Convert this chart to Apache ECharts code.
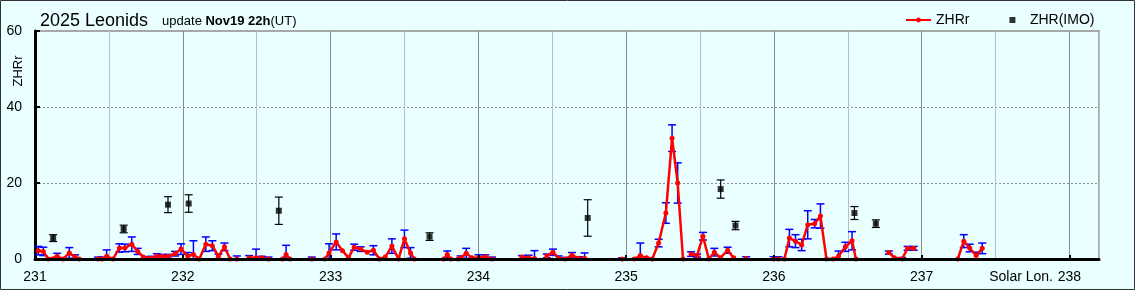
<!DOCTYPE html>
<html><head><meta charset="utf-8">
<script src="https://cdn.jsdelivr.net/npm/echarts@6/dist/echarts.min.js"></script>
<style>html,body{margin:0;padding:0;background:#eaffff}#c{width:1135px;height:290px}</style>
</head><body><div id="c"></div>
<script>
// ZHRr (red line) — solar longitude, value, error (null = gap / no bar)
const zhrLon = [231.022,231.056,231.090,231.150,231.190,231.232,231.271,231.300,231.36,231.427,231.455,231.485,231.528,231.571,231.609,231.655,231.695,231.733,231.783,231.824,231.862,231.902,231.948,231.988,232.034,232.072,232.112,232.156,232.200,232.241,232.282,232.320,232.34,232.366,232.40,232.449,232.496,232.535,232.580,232.62,232.675,232.699,232.725,232.80,232.873,232.92,232.963,232.990,233.038,233.081,233.121,233.160,233.204,233.248,233.290,233.331,233.370,233.415,233.460,233.500,233.541,233.566,233.65,233.766,233.790,233.814,233.84,233.864,233.880,233.918,233.957,234.001,234.047,234.092,234.20,234.295,234.340,234.380,234.42,234.464,234.505,234.543,234.588,234.634,234.678,234.719,234.85,234.972,235.01,235.055,235.096,235.139,235.177,235.220,235.269,235.311,235.349,235.385,235.41,235.440,235.480,235.520,235.560,235.597,235.638,235.687,235.728,235.77,235.812,235.90,235.999,236.030,236.071,236.105,236.146,236.188,236.229,236.276,236.315,236.356,236.400,236.437,236.484,236.529,236.555,236.65,236.778,236.816,236.867,236.905,236.946,237.10,237.244,237.285,237.325,237.369,237.410];
const zhrVal = [2.2,2.0,0,0.7,0,1.6,0.5,0,null,0,0,0.7,0,2.9,2.9,3.9,2.0,0.5,0.2,0.8,0.7,0.7,1.4,2.6,0.8,1.2,0,3.9,3.5,0.7,3.2,0,null,0,null,0.3,0.3,0.3,0,null,0,1.2,0,null,0,null,0,1.6,4.5,2.2,0.3,3.1,2.6,1.8,2.3,0,0.5,3.4,0,5.3,1.6,0,null,0,1.2,0,null,0,0.3,1.5,0.3,0.4,0.6,0,null,0.5,0.3,0.1,null,0.8,1.8,0.2,0,1.0,0.2,0.2,null,0,null,0,0.9,0.3,0,4.2,12.1,31.8,20.0,0,null,1.3,0.9,6.0,0,1.8,0.3,2.3,0.3,null,0.1,null,0,0,0,5.5,4.7,3.7,9.0,9.3,11.3,0,0,0.7,3.2,4.8,0,null,1.7,0.3,0,2.8,2.8,null,0,4.7,2.9,0.9,2.8];
const zhrErr = [1.1,1.1,null,0.8,null,1.4,0.6,null,null,0.5,0.5,1.7,null,1.1,1.0,1.9,0.8,null,0.5,0.6,0.5,0.5,0.6,1.4,0.9,3.6,null,1.9,1.3,0.6,1.0,null,null,0.8,null,0.6,2.3,0.4,0.5,null,null,2.4,null,null,0.5,null,null,2.4,2.1,null,null,0.8,0.6,null,1.2,null,null,1.9,null,2.3,1.4,null,null,null,0.9,null,null,null,0.5,1.3,null,0.7,0.5,0.5,null,0.4,0.7,2.1,null,0.5,0.8,0.6,0.4,0.7,0.4,1.4,null,0.3,null,null,3.3,null,null,1.0,2.7,3.5,5.3,null,null,0.6,0.4,1.0,null,1.0,null,0.8,null,null,0.5,null,0.6,0.6,null,2.3,1.7,1.5,3.7,1.1,3.2,null,null,1.4,1.2,2.4,null,null,0.4,null,0.4,0.5,0.5,null,null,1.7,1.0,0.9,1.4];

// ZHR(IMO) (black squares)
const imoLon = [231.123,231.600,231.900,232.040,232.650,233.670,234.740,235.640,235.740,236.545,236.690];
const imoVal = [5.5,7.9,14.3,14.6,12.7,5.9,10.8,18.4,8.8,12.1,9.3];
const imoErr = [0.9,1.0,2.1,2.3,3.6,1.0,4.8,2.4,1.1,1.7,1.0];

const xLabels = [231,232,233,234,235,236,237,238];
const yLabels = [0,20,40,60];

const FONT = "'Liberation Sans', 'Noto Sans CJK JP', sans-serif";

const zhrData = zhrLon.map((x,i)=>[x, zhrVal[i]]);
const zhrBars = [];
zhrLon.forEach((x,i)=>{ if (zhrErr[i]!=null && zhrVal[i]!=null) zhrBars.push([x, Math.max(0, zhrVal[i]-zhrErr[i]), zhrVal[i]+zhrErr[i]]); });
const imoData = imoLon.map((x,i)=>[x, imoVal[i]]);
const imoBars = imoLon.map((x,i)=>[x, Math.max(0, imoVal[i]-imoErr[i]), imoVal[i]+imoErr[i]]);

function errBar(color, lw, cap) {
  return function(params, api) {
    const x = api.value(0), lo = api.value(1), hi = api.value(2);
    const p1 = api.coord([x, lo]), p2 = api.coord([x, hi]);
    const st = {stroke: color, lineWidth: lw};
    return {type:'group', children:[
      {type:'line', shape:{x1:p1[0],y1:p1[1],x2:p2[0],y2:p2[1]}, style:st},
      {type:'line', shape:{x1:p1[0]-cap,y1:p1[1],x2:p1[0]+cap,y2:p1[1]}, style:st},
      {type:'line', shape:{x1:p2[0]-cap,y1:p2[1],x2:p2[0]+cap,y2:p2[1]}, style:st}
    ]};
  };
}

const chart = echarts.init(document.getElementById('c'), null, {renderer:'canvas'});
chart.setOption({
  backgroundColor: '#eaffff',
  animation: false,
  textStyle: {fontFamily: FONT},
  title: {
    left: 35, top: 7,
    text: '{a|2025 Leonids}{s| }{b|update }{c|Nov19 22h}{b|(UT)}',
    textStyle: {fontWeight: 'normal', rich: {
      a: {fontSize: 18, color: '#000', fontWeight: 'normal', fontFamily: FONT},
      s: {fontSize: 13, width: 14},
      b: {fontSize: 13, color: '#000', fontWeight: 'normal', fontFamily: FONT},
      c: {fontSize: 13, color: '#000', fontWeight: 'bold', fontFamily: FONT}
    }}
  },
  legend: {
    left: 900, top: 8, itemWidth: 25, itemHeight: 6, itemGap: 40,
    textStyle: {fontSize: 14, color: '#000', fontFamily: FONT},
    data: [
      {name: 'ZHRr'},
      {name: 'ZHR(IMO)', icon: 'path://M0,0h1v1h-1z'}
    ]
  },
  grid: {left: 35, right: 36, top: 31, bottom: 31, show: true, borderColor: '#a8a8a8', borderWidth: 2, backgroundColor: 'transparent'},
  xAxis: [{
    type: 'value', min: 231, max: 238.2, interval: 0.5, position: 'bottom',
    axisLine: {show: false}, axisTick: {show: false}, axisLabel: {show: false},
    splitLine: {show: true, lineStyle: {color: ['#8a8a8a', '#bcbcbc'], width: 1}}
  }, {
    type: 'value', min: 231, max: 238.2, interval: 1, position: 'bottom', z: 10,
    axisLine: {show: true, onZero: false, lineStyle: {color: '#000', width: 3}},
    axisTick: {show: true, inside: true, length: 4, customValues: xLabels, lineStyle: {color: '#000', width: 2}},
    axisLabel: {show: true, customValues: xLabels, margin: 11, fontSize: 14, color: '#000', fontFamily: FONT,
      formatter: v => String(Math.round(v))},
    splitLine: {show: false}
  }],
  yAxis: {
    type: 'value', min: 0, max: 60, interval: 20,
    axisLine: {show: true, onZero: false, lineStyle: {color: '#000', width: 3}},
    axisTick: {show: true, inside: true, length: 5, lineStyle: {color: '#000', width: 2}},
    axisLabel: {margin: 13, fontSize: 14, color: '#000', fontFamily: FONT,
      formatter: v => yLabels.indexOf(v) >= 0 ? String(v) : ''},
    splitLine: {show: true, showMinLine: false, showMaxLine: false, lineStyle: {color: '#909090', type: [2, 2], width: 1}}
  },
  graphic: [
    {type: 'text', x: 18, y: 71, rotation: Math.PI/2, style: {text: 'ZHRr', font: '13px ' + FONT, fill: '#000', align: 'center', verticalAlign: 'middle'}},
    {type: 'text', x: 1053, y: 277, style: {text: 'Solar Lon.', font: '14px ' + FONT, fill: '#000', align: 'right', verticalAlign: 'middle'}},
    {type: 'rect', shape: {x: 0.5, y: 0.5, width: 1134, height: 289}, style: {fill: 'none', stroke: '#333', lineWidth: 1}, z: 100}
  ],
  series: [
    {name: 'ZHRr-err', type: 'custom', xAxisIndex: 0, renderItem: errBar('#0000ff', 1.5, 4), data: zhrBars, z: 3, silent: true},
    {name: 'ZHR(IMO)-err', type: 'custom', xAxisIndex: 0, renderItem: errBar('#000', 1.2, 4), data: imoBars, z: 3, silent: true},
    {name: 'ZHRr', type: 'line', xAxisIndex: 0, data: zhrData, connectNulls: false,
      symbol: 'circle', symbolSize: 5, showAllSymbol: true,
      lineStyle: {color: '#ff0000', width: 2.5}, itemStyle: {color: '#ff0000'}, z: 4},
    {name: 'ZHR(IMO)', type: 'scatter', xAxisIndex: 0, data: imoData, symbol: 'rect', symbolSize: 6,
      itemStyle: {color: '#000'}, z: 5}
  ]
});
</script></body></html>
